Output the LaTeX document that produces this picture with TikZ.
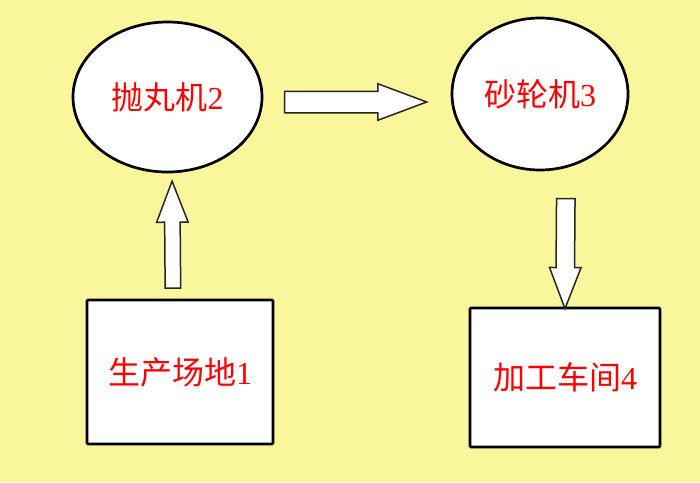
\documentclass[tikz,border=0pt]{standalone}
\usepackage{fontspec}
\setmainfont{Liberation Serif}
\newfontfamily\cjk{Noto Sans CJK SC}
\usetikzlibrary{shapes.geometric,shapes.arrows}
\definecolor{bgyellow}{RGB}{250,246,155}
\definecolor{labelred}{RGB}{255,0,0}

\begin{document}
\begin{tikzpicture}[x=1pt,y=-1pt]
\tikzset{
  procnode/.style={draw=black,fill=white,line width=2.7pt,inner sep=0pt,text=labelred,font=\fontsize{32}{38}\selectfont},
  machine/.style={procnode,ellipse},
  place/.style={procnode,rectangle,rounded corners=1pt},
  flowarrow/.style={single arrow,draw=black!85,fill=white,line width=1.5pt,inner xsep=0pt,
    single arrow head indent=0pt,sloped,allow upside down,anchor=tail}
}
\useasboundingbox (0,0) rectangle (700,482);
\fill[bgyellow] (0,0) rectangle (700,482);
\node[machine,minimum width=189,minimum height=150] (n_blast2) at (167.5,97) {{\cjk 抛丸机}2};
\node[machine,minimum width=176,minimum height=152] (n_grind3) at (540,94) {{\cjk 砂轮机}3};
\node[place,minimum width=186,minimum height=144] (n_site1) at (180,372) {{\cjk 生产场地}1};
\node[place,minimum width=190,minimum height=139] (n_shop4) at (565,377.5) {{\cjk 加工车间}4};
\path ([xshift=-7pt]n_site1.north) -- ([xshift=4.5pt]n_blast2.south)
  node[flowarrow,pos=0.078,inner ysep=7pt,single arrow head extend=8pt,
       single arrow tip angle=42,minimum height=107] {};
\path ([yshift=-5pt]n_blast2.east) -- ([yshift=-8pt]n_grind3.west)
  node[flowarrow,pos=0.11,inner ysep=10pt,single arrow head extend=7.5pt,
       single arrow tip angle=41,minimum height=142] {};
\path ([xshift=26pt]n_grind3.south) -- (n_shop4.north)
  node[flowarrow,pos=0.196,inner ysep=8.5pt,single arrow head extend=6.5pt,
       single arrow tip angle=42,minimum height=110] {};
\end{tikzpicture}
\end{document}
